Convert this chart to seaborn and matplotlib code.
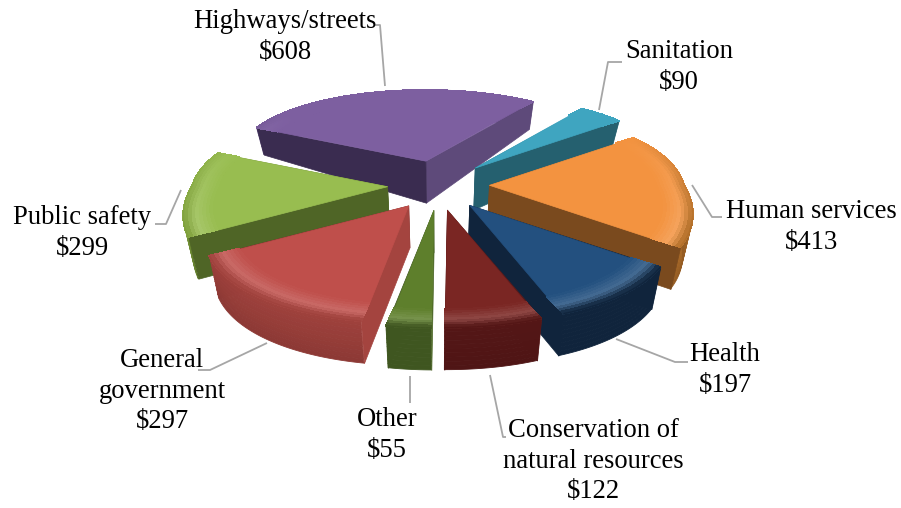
import numpy as np
import pandas as pd
import seaborn as sns
import matplotlib
matplotlib.use("Agg")
import matplotlib.pyplot as plt
from matplotlib.collections import PolyCollection, LineCollection
from matplotlib.colors import to_rgb

categories = ["Highways/streets", "Sanitation", "Human services", "Health",
              "Conservation of\nnatural resources", "Other", "General\ngovernment", "Public safety"]
values = [608, 90, 413, 197, 122, 55, 297, 299]
value_labels = ["$608", "$90", "$413", "$197", "$122", "$55", "$297", "$299"]
top_colors = ["#7D5FA0", "#3FA5C0", "#F39340", "#23507F", "#7A2623", "#5E7F2C", "#BF4F4B", "#98BD50"]
wall_colors = ["#5E4A7A", "#2B7286", "#B06E28", "#10243C", "#541616", "#3F5620", "#A0423D", "#7FA03C"]
dark_colors = ["#3A2C50", "#25606F", "#7A4A1E", "#10243C", "#4A1414", "#3F5620", "#7A302D", "#4F6526"]
mid_colors = ["#5E4A7A", "#2B7286", "#9A5E24", "#1A3556", "#5A1B1B", "#4A6524", "#A4443F", "#5F7A2E"]

# layout
CX, CY = 438, 185
A, B = 195, 96
EXPLODE = 0.2615
TAPER = 0.04
draw_order = [0, 1, 2, 7, 3, 4, 5, 6]

label_pos = [(285, 37), (679, 67), (811, 227), (725, 370), (593, 461), (387, 435), (162, 391), (82, 233)]
leaders = [
    [(385, 86), (380, 25), (374, 25)],
    [(599, 110), (608, 62), (622, 62)],
    [(692, 185), (712, 217), (722, 217)],
    [(616, 339), (675, 362), (688, 362)],
    [(490, 375), (503, 437), (506, 437)],
    [(267, 343), (210, 370), (198, 370)],
    [(410, 376), (410, 403)],
    [(181, 190), (166, 224), (155, 224)],
]

sns.set_theme(style="white")
plt.rcParams["font.family"] = ["Liberation Serif", "DejaVu Serif"]

df = pd.DataFrame({"category": categories, "value": values})

fig = plt.figure(figsize=(9.01, 5.08), dpi=100, facecolor="white")
ax = fig.add_axes([0, 0, 1, 1])
wedges, _ = ax.pie(df["value"], explode=[EXPLODE] * len(df), startangle=156.9,
                   counterclock=False, radius=1.0)
geo = [(w.center, w.theta1, w.theta2) for w in wedges]
for w in wedges:
    w.remove()
ax.set_aspect("auto")
ax.set_xlim(0, 901)
ax.set_ylim(508, 0)
ax.set_axis_off()


def rim(apex, th, r=1.0):
    x, y = r * np.cos(th), r * np.sin(th)
    sx = 1 + np.where(y > 0, 0.16, 0.29) * y
    sy = 1 + np.where(y > 0, 0.36, 0.186) * y
    return np.column_stack([apex[0] + A * x / sx, apex[1] - B * y / sy])


def height(y):
    return 42 - 15 * np.clip(y / 0.3, 0, 1)


def drop(pts, hs, frac):
    """Move top points down the wall; the wall narrows a little towards its base."""
    pts = np.atleast_2d(pts)
    out = pts.copy()
    out[:, 0] -= TAPER * (pts[:, 0] - CX) * frac
    out[:, 1] += hs * frac
    return out


def mix(c1, c2, t):
    a, b = np.array(to_rgb(c1)), np.array(to_rgb(c2))
    return tuple(a + (b - a) * t)


def add(polys, cols, z, aa=True, lw=0.5):
    ax.add_collection(PolyCollection(polys, facecolors=cols, edgecolors=cols, linewidths=lw,
                                     antialiaseds=aa, zorder=z))


z = 1.0
for i in draw_order:
    (ox, oy), t1, t2 = geo[i]
    apex = (CX + A * ox, CY - B * oy)
    th = np.radians(np.linspace(t1, t2, max(int(t2 - t1) * 2, 8)))
    top = rim(apex, th)
    ys = np.sin(th)
    hs = height(ys)
    ap_t = np.array(apex)
    ap_b = drop(ap_t, 42.0, 1.0)[0]

    # radial faces: th[0] is the smaller angle, th[-1] the larger
    faces = []
    bottom = drop(top, hs, 1.0)
    for ang, idx in ((th[0], 0), (th[-1], -1)):
        dx, dy = np.cos(ang), np.sin(ang)
        n = (dy, -dx) if idx == 0 else (-dy, dx)
        col = mid_colors[i] if n[0] > 0.7 else dark_colors[i]
        faces.append((n[1], [ap_t, top[idx], bottom[idx], ap_b], col))
    for ny, poly, col in faces:
        if ny > 0:
            add([poly], [col], z)
    z += 0.01

    # outer wall: one polygon for each height band
    n_z = 10
    polys, cols = [], []
    for k in range(n_z):
        a, b = k / n_z, (k + 1) / n_z
        polys.append(np.vstack([drop(top, hs, a), drop(top, hs, b)[::-1]]))
        cols.append(mix(wall_colors[i], dark_colors[i], 0.5 * b))
    add(polys, cols, z, lw=0.6)
    z += 0.01

    for ny, poly, col in faces:
        if ny <= 0:
            add([poly], [col], z)
            z += 0.01

    # top surface with a rounded rim
    r_in = 0.87
    inner = rim(apex, th, r_in)
    add([np.vstack([ap_t, inner])], [top_colors[i]], z)
    z += 0.01
    light = mix(top_colors[i], "#FFFFFF", 0.15)
    rs = np.linspace(r_in, 1.0, 9)
    polys, cols = [], []
    for k in range(len(rs) - 1):
        t = (k + 0.5) / (len(rs) - 1)
        ring_a, ring_b = rim(apex, th, rs[k]), rim(apex, th, rs[k + 1])
        for j in range(len(th) - 1):
            w = np.clip(0.6 - ys[j], 0, 1)
            if t < 0.6:
                c = mix(top_colors[i], light, w * t / 0.6)
            else:
                c = mix(mix(top_colors[i], light, w), wall_colors[i], w * (t - 0.6) / 0.4)
            polys.append([ring_a[j], ring_a[j + 1], ring_b[j + 1], ring_b[j]])
            cols.append(c)
    add(polys, cols, z, aa=False, lw=0.8)
    z += 0.01
    # soften the back of the rim
    segs = [[top[j], top[j + 1]] for j in range(len(th) - 1)]
    seg_cols = [mix(top_colors[i], wall_colors[i], float(np.clip(0.6 - ys[j], 0, 1))) for j in range(len(th) - 1)]
    ax.add_collection(LineCollection(segs, colors=seg_cols, linewidths=1.0, zorder=z))
    z += 0.01

# leaders and labels
for pts in leaders:
    xy = np.array(pts)
    ax.plot(xy[:, 0], xy[:, 1], color="#A6A6A6", lw=1.3, zorder=0.5, solid_capstyle="butt")
for cat, val, (lx, ly) in zip(categories, value_labels, label_pos):
    ax.text(lx, ly, f"{cat}\n{val}", ha="center", va="center", fontsize=19.2,
            color="black", linespacing=1.31, zorder=30)

fig.savefig("out.png", dpi=100, facecolor="white")
